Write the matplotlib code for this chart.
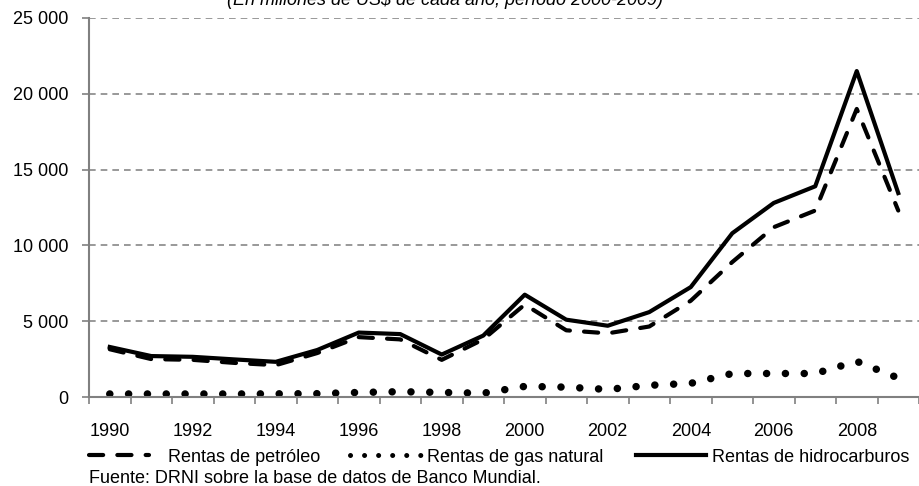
import numpy as np
import matplotlib.pyplot as plt
from matplotlib.lines import Line2D

plt.rcParams['font.family'] = ['Liberation Sans', 'DejaVu Sans']

years = list(range(1990, 2010))
petroleo = [3150, 2500, 2450, 2250, 2100, 2900, 3950, 3800, 2450, 3800,
            6100, 4400, 4200, 4650, 6350, 8900, 11200, 12300, 19000, 12300]
gas = [200, 200, 200, 200, 210, 220, 300, 350, 300, 250,
       700, 650, 500, 770, 900, 1550, 1550, 1550, 2350, 1250]
hidrocarburos = [3300, 2700, 2650, 2480, 2320, 3100, 4250, 4150, 2800, 4050,
                 6750, 5100, 4700, 5600, 7250, 10800, 12800, 13900, 21500, 13450]
yticks = [0, 5000, 10000, 15000, 20000, 25000]
ylabels = ['0', '5 000', '10 000', '15 000', '20 000', '25 000']

fs = 13
dash_style = dict(color='black', lw=3, linestyle=(0, (3.4, 3.4)), dash_capstyle='round')
dot_style = dict(color='black', lw=5.4, linestyle=(0, (0.01, 2.5)), dash_capstyle='round')
dot_legend = dict(color='black', lw=3.6, linestyle=(0, (0.01, 2.8)), dash_capstyle='round')
solid_style = dict(color='black', lw=3)

fig = plt.figure(figsize=(9.19, 4.86), dpi=100)
ax = fig.add_axes([89 / 919, 89 / 486, 830 / 919, 379 / 486])

x = np.arange(len(years))
ax.plot(x, petroleo, **dash_style)
ax.plot(x, gas, **dot_style)
ax.plot(x, hidrocarburos, **solid_style)

ax.set_xlim(-0.5, len(years) - 0.5)
ax.set_ylim(0, 25000)
ax.set_yticks(yticks)
ax.set_yticklabels(ylabels, fontsize=fs)
ax.set_xticks(x[::2])
ax.set_xticklabels([str(y) for y in years[::2]], fontsize=fs)
ax.set_xticks(np.arange(-0.5, len(years), 1), minor=True)
ax.tick_params(axis='x', which='major', length=0, pad=19)
ax.tick_params(axis='x', which='minor', length=5, color='#808080', width=1.2)
ax.tick_params(axis='y', length=5, color='#808080', width=1.2, pad=10)

ax.grid(axis='y', color='#888888', linestyle=(0, (4, 3)), lw=1.2)
ax.set_axisbelow(True)
for s in ['top', 'right']:
    ax.spines[s].set_visible(False)
for s in ['left', 'bottom']:
    ax.spines[s].set_color('#808080')
    ax.spines[s].set_linewidth(1.5)

fig.text(445 / 919, 1 - 5 / 486, '(En millones de US$ de cada año, período 2000-2009)',
         fontsize=fs, style='italic', ha='center', va='baseline')

# legend, three entries laid out like the original
entries = [
    ('Rentas de petróleo', dash_style, 89, 3.3, 1.1),
    ('Rentas de gas natural', dot_legend, 350, 4.0, 0.25),
    ('Rentas de hidrocarburos', solid_style, 636, 3.9, 0.33),
]
for label, style, left, hl, tp in entries:
    leg = fig.legend([Line2D([], [], **style)], [label], loc='center left',
                     bbox_to_anchor=(left / 919, 1 - 457 / 486), frameon=False,
                     fontsize=fs, handlelength=hl, handletextpad=tp,
                     borderpad=0, borderaxespad=0)

fig.text(89 / 919, 1 - 483 / 486, 'Fuente: DRNI sobre la base de datos de Banco Mundial.',
         fontsize=fs, ha='left', va='baseline')

fig.savefig('out.png', dpi=100)
